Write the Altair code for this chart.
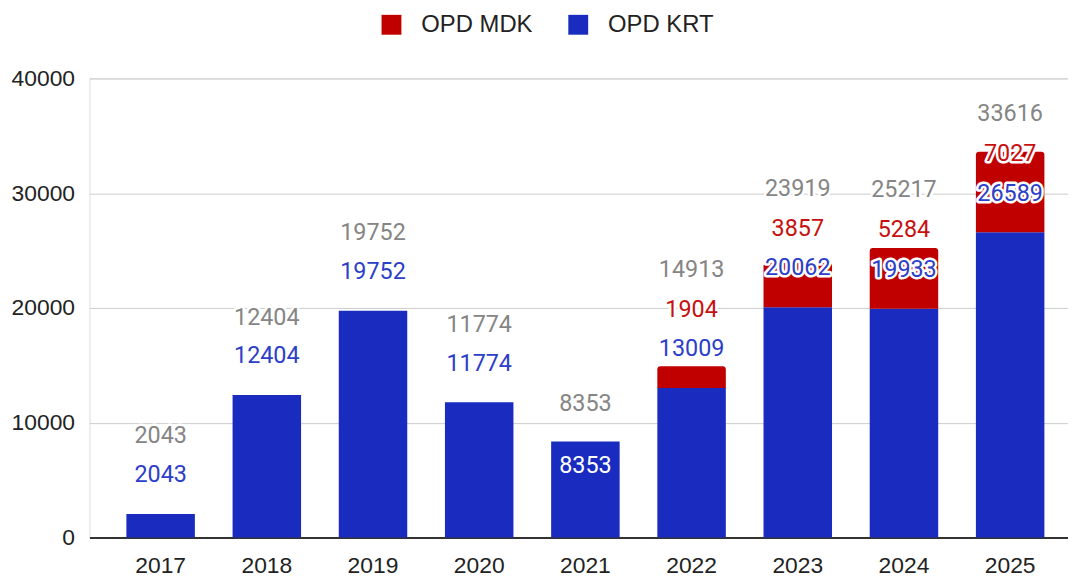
import altair as alt
import pandas as pd

years = ["2017", "2018", "2019", "2020", "2021", "2022", "2023", "2024", "2025"]
opd_krt = [2043, 12404, 19752, 11774, 8353, 13009, 20062, 19933, 26589]
opd_mdk = [0, 0, 0, 0, 0, 1904, 3857, 5284, 7027]
series_names = ["OPD MDK", "OPD KRT"]
y_ticks = [0, 10000, 20000, 30000, 40000]

BLUE = "#1a2cc0"
RED = "#c00000"
BLUE_TXT = "#2d3ec8"
RED_TXT = "#c80f0f"
GRAY_TXT = "#858585"

totals = [k + m for k, m in zip(opd_krt, opd_mdk)]
# label-collision heuristic: a bar lower than both neighbours gets its own label inside
is_min = []
for i, t in enumerate(totals):
    if 0 < i < len(totals) - 1 and t < totals[i - 1] and t < totals[i + 1]:
        is_min.append(1)
    else:
        is_min.append(0)

df = pd.DataFrame({
    "year": years,
    "krt": opd_krt,
    "mdk": opd_mdk,
    "total": totals,
    "isMin": is_min,
})

x_enc = alt.X(
    "year:N",
    sort=years,
    title=None,
    scale=alt.Scale(paddingInner=0.355, paddingOuter=0.285, align=0.61),
    axis=alt.Axis(
        labelAngle=0, ticks=False, domain=True, domainColor="#333333",
        domainWidth=2, labelFontSize=23, labelColor="#222222",
        labelFont="Liberation Sans", labelPadding=17, grid=False,
    ),
)
y_scale = alt.Scale(domain=[0, 40000], nice=False)
y_axis = alt.Axis(
    values=y_ticks, format="d", title=None, domain=False, ticks=False, grid=True,
    gridColor="#cccccc", gridWidth=1, labelFontSize=23, labelColor="#222222",
    labelFont="Liberation Sans", labelPadding=15,
)
color_enc = alt.Color(
    "series:N",
    scale=alt.Scale(domain=series_names, range=[RED, BLUE]),
    legend=alt.Legend(
        title=None, orient="none", direction="horizontal", legendX=292,
        legendY=-66, symbolType="square", symbolSize=400, symbolStrokeWidth=0,
        labelFontSize=24, labelFont="Liberation Sans", labelColor="#222222",
        labelOffset=18, columnPadding=33, padding=0, symbolOpacity=1,
    ),
)

base = alt.Chart(df)

blue_bars = base.transform_calculate(series="'OPD KRT'").mark_bar().encode(
    x=x_enc,
    y=alt.Y("krt:Q", scale=y_scale, axis=y_axis),
    color=color_enc,
)
red_bars = base.transform_filter("datum.mdk > 0").transform_calculate(
    series="'OPD MDK'"
).mark_bar(cornerRadiusTopLeft=3, cornerRadiusTopRight=3).encode(
    x=x_enc,
    y=alt.Y("krt:Q", scale=y_scale, axis=y_axis),
    y2="total:Q",
    color=color_enc,
)


def label_layers(filt, text_field, dy, color, halo=True):
    out = []
    enc = dict(
        x=alt.X("year:N", sort=years),
        y=alt.Y("krt:Q", scale=y_scale),
        text=alt.Text(f"{text_field}:Q", format="d"),
    )
    b = base.transform_filter(filt)
    if halo:
        out.append(b.mark_text(
            dy=dy, fontSize=23.5, font="Roboto", baseline="middle",
            color="white", stroke="white", strokeWidth=5, strokeJoin="round",
        ).encode(**enc))
    out.append(b.mark_text(
        dy=dy, fontSize=23.5, font="Roboto", baseline="middle", color=color,
    ).encode(**enc))
    return out


layers = [blue_bars, red_bars]
layers += label_layers("datum.isMin == 0", "krt", -39, BLUE_TXT)
layers += label_layers("datum.isMin == 1", "krt", 25, "white", halo=False)
layers += label_layers("datum.mdk > 0", "mdk", -79, RED_TXT)
layers += label_layers("datum.mdk > 0", "total", -119, GRAY_TXT)
layers += label_layers("datum.mdk == 0 && datum.isMin == 0", "total", -78, GRAY_TXT)
layers += label_layers("datum.isMin == 1", "total", -38, GRAY_TXT)

chart = alt.layer(*layers).properties(
    width=985,
    height=462,
    autosize="none",
    padding={"left": 82, "top": 69, "right": 0, "bottom": 40},
).configure_view(stroke=None).configure(background="white")

chart.save("out.html", embed_options={"renderer": "svg", "actions": False})
